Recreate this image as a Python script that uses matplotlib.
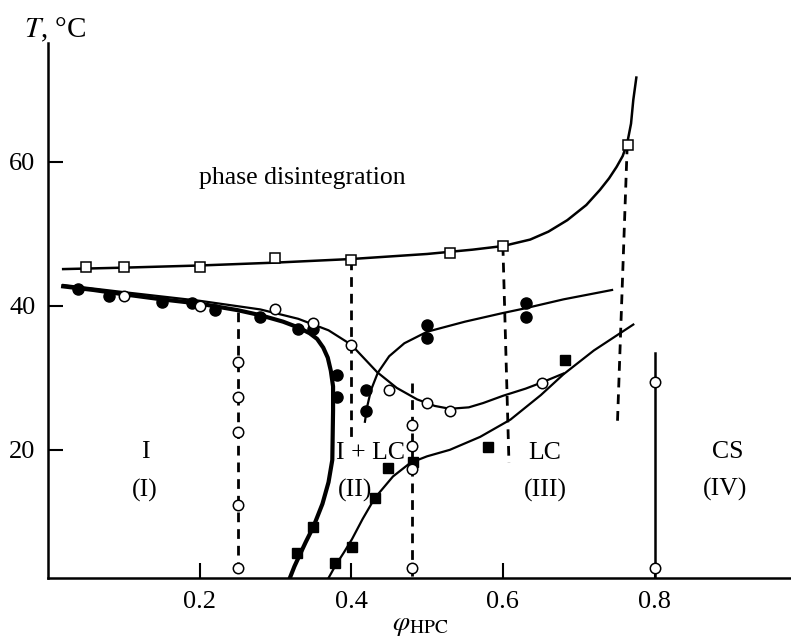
import matplotlib
matplotlib.use("Agg")
import matplotlib.pyplot as plt

plt.rcParams['font.family'] = ['Liberation Serif', 'DejaVu Serif']
plt.rcParams['mathtext.fontset'] = 'stix'
plt.rcParams['lines.scale_dashes'] = False

# --- measured points ---
# open squares: phase disintegration boundary
sq_open_x = [0.05, 0.10, 0.20, 0.30, 0.40, 0.53, 0.60, 0.765]
sq_open_T = [45.4, 45.4, 45.4, 46.6, 46.4, 47.4, 48.3, 62.4]

# filled circles
circ_fill_x = [0.04, 0.08, 0.15, 0.19, 0.22, 0.28, 0.33, 0.35,
               0.381, 0.381, 0.42, 0.42, 0.50, 0.50, 0.63, 0.63]
circ_fill_T = [42.4, 41.3, 40.5, 40.4, 39.4, 38.5, 36.8, 36.8,
               30.4, 27.4, 28.3, 25.4, 37.4, 35.5, 40.4, 38.4]

# open circles on the I' curve
circ_open_x = [0.10, 0.20, 0.30, 0.35, 0.40, 0.45, 0.50, 0.53, 0.652]
circ_open_T = [41.3, 40.0, 39.6, 37.6, 34.6, 28.3, 26.5, 25.4, 29.3]

# open circles on the vertical lines
vert_circ_x = [0.25, 0.25, 0.25, 0.25, 0.25, 0.48, 0.48, 0.48, 0.48, 0.80, 0.80]
vert_circ_T = [32.2, 27.4, 22.5, 12.4, 3.6, 23.5, 20.5, 17.3, 3.6, 29.4, 3.6]

# filled squares
sq_fill_x = [0.328, 0.350, 0.379, 0.401, 0.431, 0.449, 0.482, 0.58, 0.682]
sq_fill_T = [5.7, 9.3, 4.3, 6.5, 13.3, 17.5, 18.3, 20.4, 32.5]

# --- drawn curves ---
upper_x = [0.02, 0.10, 0.20, 0.30, 0.40, 0.50, 0.56, 0.60, 0.636, 0.66, 0.685,
           0.71, 0.728, 0.74, 0.75, 0.758, 0.764, 0.769, 0.772, 0.776]
upper_T = [45.1, 45.3, 45.6, 46.0, 46.5, 47.2, 47.8, 48.3, 49.2, 50.3, 51.9,
           54.0, 56.1, 57.7, 59.3, 60.8, 62.6, 65.3, 68.6, 71.7]

iso_x = [0.02, 0.06, 0.10, 0.15, 0.20, 0.25, 0.28, 0.31, 0.33, 0.345, 0.355, 0.363,
         0.369, 0.373, 0.376, 0.376, 0.375, 0.370, 0.362, 0.350, 0.340, 0.332, 0.325, 0.319]
iso_T = [42.7, 42.2, 41.6, 40.9, 40.3, 39.4, 38.7, 37.8, 37.0, 36.2, 35.4, 34.2,
         32.8, 31.0, 28.8, 25.5, 18.6, 15.5, 12.5, 9.3, 7.2, 5.4, 3.8, 2.2]

iso2_x = [0.02, 0.10, 0.20, 0.28, 0.33, 0.37, 0.40, 0.434, 0.46, 0.487, 0.51,
          0.53, 0.555, 0.574, 0.60, 0.63, 0.65, 0.68]
iso2_T = [42.9, 41.9, 40.7, 39.5, 38.2, 36.6, 34.6, 30.8, 28.6, 27.0, 26.1,
          25.7, 25.9, 26.5, 27.5, 28.5, 29.3, 30.6]

lc_x = [0.418, 0.421, 0.426, 0.435, 0.45, 0.47, 0.50, 0.55, 0.60, 0.627, 0.68, 0.744]
lc_T = [23.9, 26.0, 28.3, 30.7, 33.0, 34.8, 36.4, 37.8, 39.0, 39.6, 40.9, 42.2]

rise_x = [0.370, 0.379, 0.39, 0.401, 0.415, 0.431, 0.455, 0.478, 0.50, 0.53,
          0.57, 0.61, 0.65, 0.68, 0.72, 0.772]
rise_T = [2.2, 3.9, 5.7, 7.6, 10.4, 13.3, 16.3, 18.2, 19.1, 20.0,
          21.8, 24.2, 27.6, 30.5, 33.8, 37.4]

# dashed tie lines (x top, x bottom, T top, T bottom)
dash_x = [(0.25, 0.25), (0.40, 0.40), (0.48, 0.48), (0.600, 0.608), (0.764, 0.751)]
dash_T = [(39.2, 2.2), (46.4, 21.4), (29.3, 2.2), (48.3, 18.2), (62.4, 23.5)]
cs_x = [0.80, 0.80]
cs_T = [33.5, 2.2]

region_labels = ["I", "(I)", "I + LC", "(II)", "LC", "(III)", "CS", "(IV)"]
region_pos = [(0.128, 19.7), (0.128, 14.3), (0.425, 19.5), (0.405, 14.3),
              (0.655, 19.6), (0.656, 14.3), (0.896, 19.7), (0.893, 14.5)]

fig = plt.figure(figsize=(7.91, 6.42), dpi=100)
ax = fig.add_axes([48 / 791, 64 / 642, 743 / 791, 535 / 642])

ax.plot(upper_x, upper_T, color='black', lw=1.8, zorder=2)
ax.plot(iso_x, iso_T, color='black', lw=3.0, zorder=2)
ax.plot(iso2_x, iso2_T, color='black', lw=1.6, zorder=2)
ax.plot(lc_x, lc_T, color='black', lw=1.6, zorder=2)
ax.plot(rise_x, rise_T, color='black', lw=1.6, zorder=2)
for xs, ts in zip(dash_x, dash_T):
    ax.plot(xs, ts, color='black', lw=2.0, dashes=(7, 5), zorder=2)
ax.plot(cs_x, cs_T, color='black', lw=1.8, zorder=2)

ax.plot(sq_open_x, sq_open_T, 's', ms=7.5, mfc='white', mec='black', mew=1.1, zorder=3)
ax.plot(sq_fill_x, sq_fill_T, 's', ms=7.5, color='black', zorder=3)
ax.plot(circ_fill_x, circ_fill_T, 'o', ms=8, color='black', zorder=3)
ax.plot(circ_open_x, circ_open_T, 'o', ms=7.5, mfc='white', mec='black', mew=1.1, zorder=3)
ax.plot(vert_circ_x, vert_circ_T, 'o', ms=7.5, mfc='white', mec='black', mew=1.1, zorder=3)

ax.text(0.335, 57.8, "phase disintegration", fontsize=18.5, ha='center', va='center')
for lab, (px, py) in zip(region_labels, region_pos):
    ax.text(px, py, lab, fontsize=18.5, ha='center', va='center')

ax.set_xlim(0, 0.98)
ax.set_ylim(2.2, 76.5)
ax.set_xticks([0.2, 0.4, 0.6, 0.8])
ax.set_xticklabels(["0.2", "0.4", "0.6", "0.8"])
ax.set_yticks([20, 40, 60])
ax.tick_params(axis='both', direction='in', length=11, width=1.5, labelsize=19, pad=9)
for s in ['top', 'right']:
    ax.spines[s].set_visible(False)
for s in ['left', 'bottom']:
    ax.spines[s].set_linewidth(1.8)

fig.text(24 / 791, 1 - 30 / 642, "$T$, °C", fontsize=21, ha='left', va='center')
fig.text(420 / 791, 1 - 626 / 642, r"$\varphi_{\mathrm{HPC}}$", fontsize=20, ha='center', va='center')

fig.savefig("out.png", dpi=100)
